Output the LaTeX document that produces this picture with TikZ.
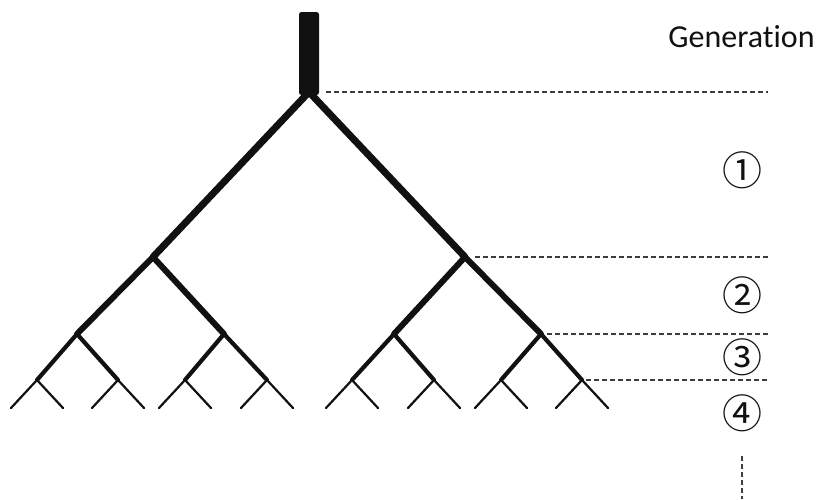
\documentclass[tikz,border=0pt]{standalone}
\usepackage{fontspec}
\setmainfont{Carlito}[Ligatures={NoCommon}]
\newfontfamily\circfont{Noto Sans CJK JP}
\usetikzlibrary{positioning}
\definecolor{Branch}{HTML}{111111}
\definecolor{RuleGray}{HTML}{3C3C3C}
\tikzset{
  gen1/.style={draw=Branch, line width=7pt, line cap=round},
  gen2/.style={draw=Branch, line width=6pt, line cap=round},
  gen3/.style={draw=Branch, line width=4.2pt, line cap=round},
  gen4/.style={draw=Branch, line width=2.2pt, line cap=round},
  genrule/.style={draw=RuleGray, line width=1.1pt, dash pattern=on 5pt off 3pt},
  gentitle/.style={font=\fontsize{32}{36}\selectfont, text=Branch,
                   inner sep=0pt, anchor=base},
  genmark/.style={font=\circfont\fontsize{40}{44}\selectfont, text=Branch,
                  inner sep=0pt},
}

\begin{document}
\begin{tikzpicture}[x=1pt, y=-1pt]
    \useasboundingbox (0,0) rectangle (818,499);

    % branching points, one letter per step (l = left, r = right)
    \coordinate (n) at (309,92);
    \coordinate (nl) at (153,257);
    \coordinate (nr) at (465,257);
    \coordinate (nll) at (77,334);
    \coordinate (nlr) at (224,334);
    \coordinate (nrl) at (394,334);
    \coordinate (nrr) at (541,334);
    \coordinate (nlll) at (37,380);
    \coordinate (nllr) at (118,380);
    \coordinate (nlrl) at (185,380);
    \coordinate (nlrr) at (267,380);
    \coordinate (nrll) at (352,380);
    \coordinate (nrlr) at (434,380);
    \coordinate (nrrl) at (501,380);
    \coordinate (nrrr) at (582,380);

    % generation 4: the short tips
    \foreach \p in {nlll,nllr,nlrl,nlrr,nrll,nrlr,nrrl,nrrr} {
      \path (\p) ++(-26,28) coordinate (\p l);
      \path (\p) ++(26,28) coordinate (\p r);
      \draw[gen4] (\p) -- (\p l);
      \draw[gen4] (\p) -- (\p r);
    }
    \foreach \a/\b in {nll/nlll, nll/nllr, nlr/nlrl, nlr/nlrr,
                       nrl/nrll, nrl/nrlr, nrr/nrrl, nrr/nrrr}
      \draw[gen3] (\a) -- (\b);
    \foreach \a/\b in {nl/nll, nl/nlr, nr/nrl, nr/nrr}
      \draw[gen2] (\a) -- (\b);
    \foreach \a/\b in {n/nl, n/nr}
      \draw[gen1] (\a) -- (\b);

    % trunk above the first split
    \fill[Branch, rounded corners=2.5pt] (299,95) rectangle (319,12);

    % generation boundaries
    \coordinate (rim) at (768,0);
    \draw[genrule] ([xshift=17pt]n) -- (n -| rim);
    \draw[genrule] ([xshift=10pt]nr) -- (nr -| rim);
    \draw[genrule] ([xshift=6pt]nrr) -- (nrr -| rim);
    \draw[genrule] ([xshift=4pt]nrrr) -- (nrrr -| rim);

    \node[gentitle] (title) at (741.5,47) {Generation};
    \node[genmark] (g1) at (742,170) {①};
    \node[genmark] (g2) at (742,295) {②};
    \node[genmark] (g3) at (742,357) {③};
    \node[genmark] (g4) at (742,413) {④};

    \coordinate (more) at (742,456);
    \draw[genrule] (more) -- ++(0,43);
\end{tikzpicture}
\end{document}
